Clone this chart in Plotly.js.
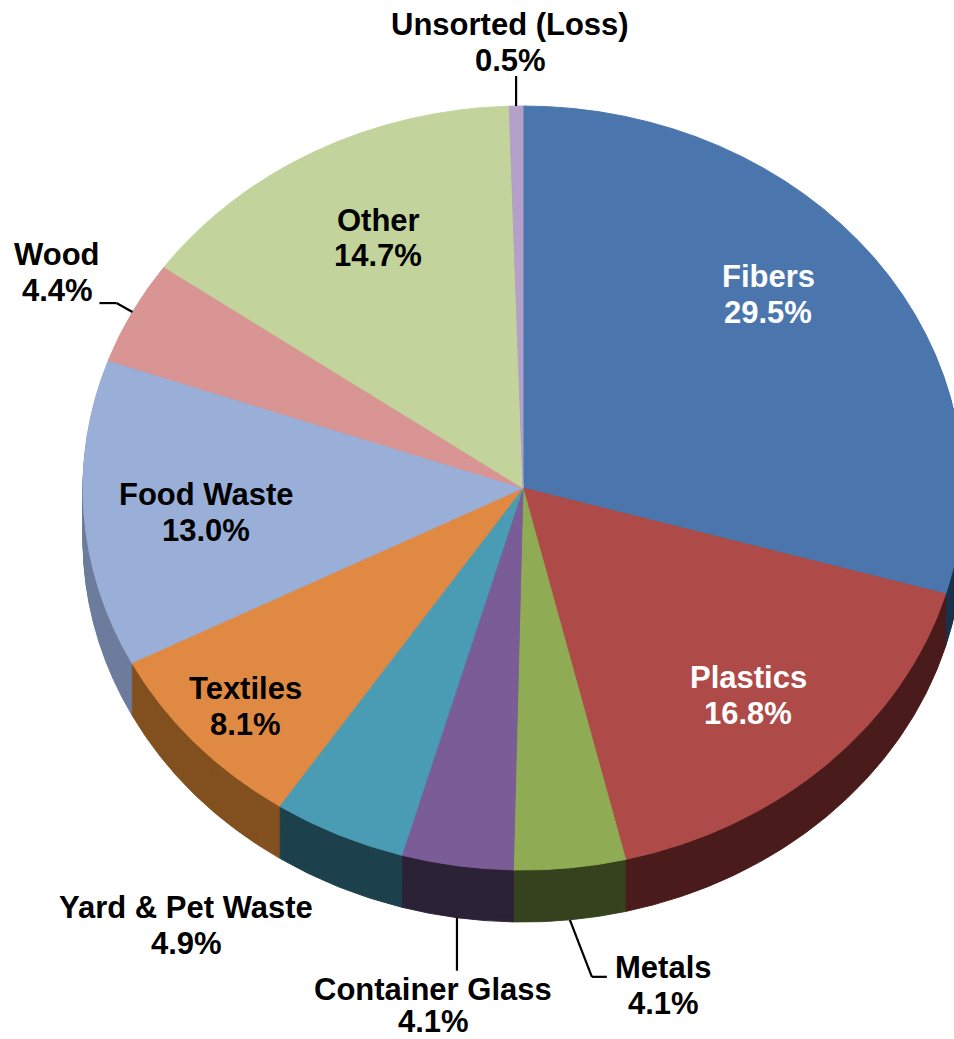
<!DOCTYPE html>
<html>
<head>
<meta charset="utf-8">
<script src="https://cdn.plot.ly/plotly-3.0.1.min.js"></script>
<style>
html,body{margin:0;padding:0;overflow:hidden;background:#ffffff;}
#chart{width:970px;height:1039px;}
</style>
</head>
<body>
<div id="chart"></div>
<script>
// ---- data ----
const categories = ['Fibers', 'Plastics', 'Metals', 'Container Glass', 'Yard & Pet Waste',
                    'Textiles', 'Food Waste', 'Wood', 'Other', 'Unsorted (Loss)'];
const shares = [29.5, 16.8, 4.1, 4.1, 4.9, 8.1, 13.0, 4.4, 14.7, 0.5];

// ---- styles ----
const topColors  = ['#4a76ad', '#ae4b49', '#8fac54', '#7a5c96', '#4a9cb4',
                    '#e08943', '#9aafd8', '#d89594', '#c2d49c', '#b4a0c8'];
const sideColors = ['#1d314c', '#4a1c1b', '#36421e', '#2c2238', '#1d414c',
                    '#83501f', '#6d7c9c', '#5a3a3a', '#4d5a3a', '#433a4f'];
const textColors = ['#ffffff', '#ffffff', '#000000', '#000000', '#000000',
                    '#000000', '#000000', '#000000', '#000000', '#000000'];
// label block centres (px) and half line gap
const labelPos = {
  'Fibers': [768, 294, 18], 'Plastics': [748, 695, 18], 'Metals': [663, 985, 18],
  'Container Glass': [433, 1005, 16], 'Yard & Pet Waste': [186, 925, 18], 'Textiles': [245, 706, 18],
  'Food Waste': [206, 512, 18], 'Wood': [57, 272, 18], 'Other': [378, 238, 18], 'Unsorted (Loss)': [510, 42, 18]
};
// leader line elbows relative to the slice's rim anchor (px)
const leaders = {
  'Unsorted (Loss)': [[0, 0], [0, -30]],
  'Wood': [[0, 0], [-16, -9], [-33, -9]],
  'Container Glass': [[0, 0], [0, 53]],
  'Metals': [[0, 0], [22, 57], [37, 57]]
};

const W = 970, H = 1039;
const CX = 523, CY = 488, R = 440, RY = 382, DEPTH = 52;
const S = RY / R;
const DEPTH_PRE = DEPTH / S;
const HALF_Y = 0.435;
const LAYERS = 30;

function pieTrace(offset, colors) {
  const cyPaper = 1 - (CY + offset) / H;
  return {
    type: 'pie',
    labels: categories,
    values: shares,
    sort: false,
    direction: 'clockwise',
    rotation: 0,
    textinfo: 'none',
    hoverinfo: 'skip',
    showlegend: false,
    marker: {colors: colors, line: {width: 1, color: colors}},
    domain: {x: [(CX - R) / W, (CX + R) / W], y: [cyPaper - HALF_Y, cyPaper + HALF_Y]}
  };
}

const traces = [];
for (let k = 0; k < LAYERS; k++) {
  traces.push(pieTrace(DEPTH_PRE * (LAYERS - k) / LAYERS, sideColors));
}
traces.push(pieTrace(0, topColors));

const px = x => x / W;
const py = y => 1 - y / H;
const FONT = {family: 'Liberation Sans, Arial, sans-serif', size: 31};

const total = shares.reduce((a, b) => a + b, 0);
const annotations = [];
const shapes = [];
let cum = 0;
categories.forEach((name, i) => {
  const mid = (cum + shares[i] / 2) / total * 2 * Math.PI;
  cum += shares[i];
  const [lx, ly, gap] = labelPos[name];
  const font = Object.assign({}, FONT, {color: textColors[i]});
  annotations.push({xref: 'paper', yref: 'paper', x: px(lx), y: py(ly - gap), borderpad: 0,
    xanchor: 'center', yanchor: 'middle', showarrow: false, text: '<b>' + name + '</b>', font: font});
  annotations.push({xref: 'paper', yref: 'paper', x: px(lx), y: py(ly + gap), borderpad: 0,
    xanchor: 'center', yanchor: 'middle', showarrow: false,
    text: '<b>' + shares[i].toFixed(1) + '%</b>', font: font});
  if (leaders[name]) {
    const ax = CX + R * Math.sin(mid);
    let ay = CY - RY * Math.cos(mid);
    if (Math.cos(mid) < 0) ay += DEPTH;
    const pts = leaders[name];
    for (let j = 0; j < pts.length - 1; j++) {
      shapes.push({type: 'line', xref: 'paper', yref: 'paper',
        x0: px(ax + pts[j][0]), y0: py(ay + pts[j][1]),
        x1: px(ax + pts[j + 1][0]), y1: py(ay + pts[j + 1][1]),
        line: {color: '#000000', width: 2.2}});
    }
  }
});

const layout = {
  width: W, height: H,
  margin: {l: 0, r: 0, t: 0, b: 0},
  paper_bgcolor: '#ffffff',
  showlegend: false,
  annotations: annotations,
  shapes: shapes
};

Plotly.newPlot('chart', traces, layout, {staticPlot: true, displayModeBar: false}).then(gd => {
  const layer = gd.querySelector('.pielayer');
  if (layer) layer.setAttribute('transform', 'translate(0,' + (CY * (1 - S)) + ') scale(1,' + S + ')');
});
</script>
</body>
</html>
